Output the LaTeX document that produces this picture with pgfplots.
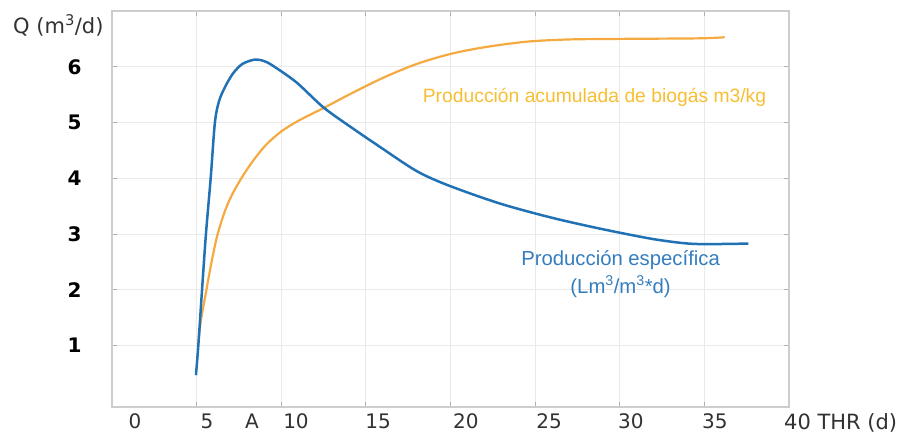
\documentclass[border=0pt]{standalone}
\usepackage{fontspec}
\setmainfont{DejaVu Sans}
\newfontfamily\annot{Liberation Sans}
\usepackage{pgfplots}
\pgfplotsset{compat=1.18}
\definecolor{bluec}{RGB}{33,113,181}
\definecolor{orangec}{RGB}{245,170,65}
\definecolor{orangetxt}{RGB}{246,190,50}
\definecolor{bluetxt}{RGB}{52,125,190}
\definecolor{gridc}{RGB}{234,234,234}
\definecolor{axisc}{RGB}{205,205,205}
\definecolor{tickc}{RGB}{175,175,175}
\definecolor{labc}{RGB}{50,50,50}
\begin{document}
\begin{tikzpicture}
\useasboundingbox (-112bp,-29bp) rectangle (790bp,407bp);
\begin{axis}[
  at={(0,0)}, anchor=south west,
  scale only axis, width=677bp, height=396bp,
  xmin=0, xmax=40, ymin=-0.1, ymax=7,
  xtick={0,5,...,40}, xticklabels={},
  ytick={1,2,3,4,5,6},
  grid=major,
  major grid style={draw=gridc, line width=0.9bp},
  axis line style={draw=axisc, line width=1.3bp},
  tick style={draw=tickc, line width=0.8bp},
  major tick length=5bp,
  extra x ticks={1.36,5.61,8.27,10.87,15.72,20.91,25.82,30.66,35.62},
  extra x tick labels={0,5,A,10,15,20,25,30,35},
  extra x tick style={grid=none, major tick length=0pt},
  xticklabel style={font=\fontsize{20bp}{24bp}\selectfont, text=labc, yshift=-3bp},
  yticklabel style={font=\fontsize{20bp}{23bp}\selectfont\bfseries, text=black, xshift=-27bp},
  /pgf/number format/assume math mode=true,
  clip=false,
]
\addplot[orangec, line width=2.2bp, smooth, tension=0.5] coordinates {
 (5.1,1.05) (5.25,1.45) (5.55,1.95) (5.85,2.45) (6.2,2.95) (6.6,3.35) (7.0,3.65)
 (7.6,3.98) (8.3,4.3) (9.1,4.6) (10.0,4.84) (11.0,5.03) (12.5,5.26) (14.0,5.5)
 (16.0,5.8) (18.0,6.05) (20.0,6.23) (22.0,6.35) (24.5,6.45) (27.0,6.49)
 (30.0,6.50) (34.7,6.51) (36.2,6.53)
};
\addplot[bluec, line width=2.5bp, smooth, tension=0.5] coordinates {
 (4.96,0.47) (5.1,1.0) (5.32,2.0) (5.55,3.0) (5.83,4.0) (6.08,5.0) (6.33,5.39)
 (6.7,5.65) (7.15,5.88) (7.7,6.05) (8.45,6.13) (9.0,6.1) (9.5,6.02) (10.9,5.72)
 (12.5,5.27) (14.25,4.89) (15.8,4.57) (18.0,4.13) (19.9,3.87) (22.9,3.55)
 (25.9,3.30) (28.8,3.10) (31.8,2.92) (33.7,2.84) (35.0,2.82) (37.6,2.83)
};
\node[text=orangetxt, font=\annot\fontsize{19.3bp}{23bp}\selectfont] at (axis cs:28.51,5.45) {Producción acumulada de biogás m3/kg};
\node[text=bluetxt, font=\annot\fontsize{20.3bp}{28bp}\selectfont, align=center] at (axis cs:30.05,2.29) {Producción específica\\(Lm\textsuperscript{3}/m\textsuperscript{3}*d)};
\node[anchor=base west, inner sep=0, text=labc, font=\fontsize{21bp}{25bp}\selectfont] at (rel axis cs:1,0) [xshift=-5bp, yshift=-23bp] {40 THR (d)};
\node[anchor=base west, inner sep=0, text=labc, font=\fontsize{21bp}{25bp}\selectfont] at (rel axis cs:0,1) [xshift=-99bp, yshift=-22bp] {Q (m\textsuperscript{3}/d)};
\end{axis}
\end{tikzpicture}
\end{document}
